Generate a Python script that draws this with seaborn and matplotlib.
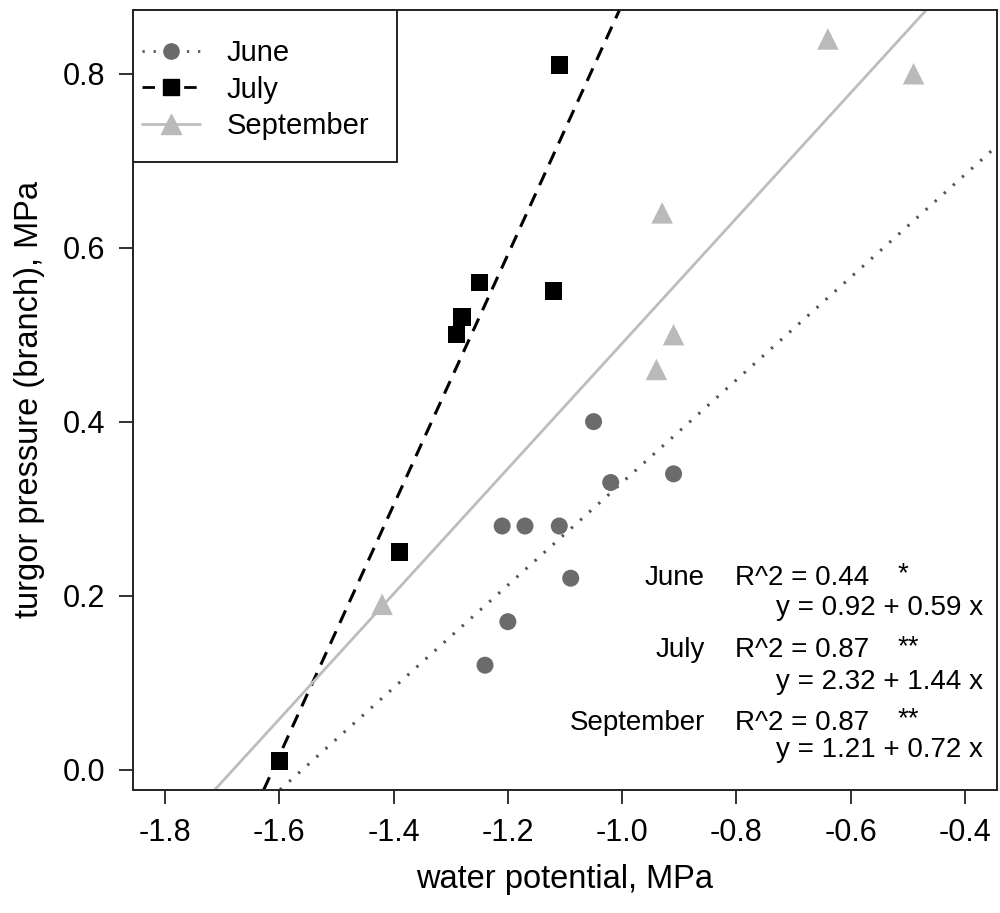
import numpy as np
import pandas as pd
import matplotlib
matplotlib.use("Agg")
import matplotlib.pyplot as plt
from matplotlib.lines import Line2D
from matplotlib.patches import Rectangle
import seaborn as sns

# data
june_x = [-1.05, -1.02, -0.91, -1.21, -1.17, -1.11, -1.09, -1.20, -1.24]
june_y = [0.40, 0.33, 0.34, 0.28, 0.28, 0.28, 0.22, 0.17, 0.12]
july_x = [-1.11, -1.25, -1.28, -1.29, -1.12, -1.39, -1.60]
july_y = [0.81, 0.56, 0.52, 0.50, 0.55, 0.25, 0.01]
sept_x = [-0.64, -0.49, -0.93, -0.91, -0.94, -1.42]
sept_y = [0.84, 0.80, 0.64, 0.50, 0.46, 0.19]

months = ["June", "July", "September"]
intercepts = [0.92, 2.32, 1.21]
slopes = [0.59, 1.44, 0.72]
r_squared = ["0.44", "0.87", "0.87"]
signif = ["*", "**", "**"]

x_ticks = [-1.8, -1.6, -1.4, -1.2, -1.0, -0.8, -0.6, -0.4]
y_ticks = [0.0, 0.2, 0.4, 0.6, 0.8]

df = pd.DataFrame({
    "wp": june_x + july_x + sept_x,
    "tp": june_y + july_y + sept_y,
    "month": ["June"] * len(june_x) + ["July"] * len(july_x) + ["September"] * len(sept_x),
})

colors = {"June": "#6b6b6b", "July": "#000000", "September": "#bababa"}
line_colors = {"June": "#555555", "July": "#000000", "September": "#bdbdbd"}
markers = {"June": "o", "July": "s", "September": "^"}
sizes = {"June": 150, "July": 160, "September": 240}
dashes = {"June": (0, (0.8, 3.2)), "July": (0, (4.5, 3.0)), "September": "-"}

sns.set_theme(style="ticks")
plt.rcParams["font.family"] = ["Liberation Sans", "DejaVu Sans"]
plt.rcParams["text.color"] = "black"
plt.rcParams["axes.labelcolor"] = "black"
plt.rcParams["xtick.color"] = "#222222"
plt.rcParams["ytick.color"] = "#222222"
plt.rcParams["xtick.labelcolor"] = "black"
plt.rcParams["ytick.labelcolor"] = "black"

fig = plt.figure(figsize=(10, 9.13), dpi=100)
ax = fig.add_axes([0.133, 0.135, 0.864, 0.854])

for m in months:
    sub = df[df["month"] == m]
    sns.scatterplot(data=sub, x="wp", y="tp", marker=markers[m], color=colors[m],
                    s=sizes[m], edgecolor="none", ax=ax, legend=False, zorder=3)

# regression lines from the printed equations
for m, a, b in zip(months, intercepts, slopes):
    ax.axline((0, a), slope=b, color=line_colors[m], linestyle=dashes[m],
              lw=2.2 if m != "September" else 2.0, zorder=2)

ax.set_xlim(-1.856, -0.344)
ax.set_ylim(-0.0232, 0.8732)
ax.set_xticks(x_ticks)
ax.set_xticklabels([f"{t:.1f}" for t in x_ticks])
ax.set_yticks(y_ticks)
ax.set_yticklabels([f"{t:.1f}" for t in y_ticks])
ax.tick_params(axis="both", direction="out", length=10, width=1.3, labelsize=22)
ax.tick_params(axis="x", pad=10)
ax.tick_params(axis="y", pad=10)
for sp in ax.spines.values():
    sp.set_color("#222222")
    sp.set_linewidth(1.4)

ax.set_xlabel("water potential, MPa", fontsize=23.5, labelpad=12)
ax.set_ylabel("turgor pressure (branch), MPa", fontsize=23.5, labelpad=13)

# legend box in the top-left corner, R style
ax.add_patch(Rectangle((0, 0.805), 0.3056, 0.195, transform=ax.transAxes, fill=True,
                       facecolor="white", edgecolor="#222222", lw=1.4, zorder=4,
                       clip_on=False))
handles = [
    Line2D([], [], color=line_colors[m], linestyle=dashes[m], lw=2,
           marker=markers[m], markersize=11 if m != "September" else 14,
           markerfacecolor=colors[m], markeredgecolor=colors[m])
    for m in months
]
leg = ax.legend(handles, months, loc="center left", bbox_to_anchor=(0.0104, 0.898),
                borderaxespad=0, borderpad=0, fontsize=21, frameon=False,
                handlelength=2.0, handletextpad=0.9, labelspacing=0.28, numpoints=1)
leg.set_zorder(5)

# fit statistics block, lower right
row_y = [0.272, 0.179, 0.086]
eq_y = [0.233, 0.138, 0.051]
for i, m in enumerate(months):
    ax.text(0.662, row_y[i], m, transform=ax.transAxes, ha="right", va="center", fontsize=20)
    ax.text(0.697, row_y[i], f"R^2 = {r_squared[i]}", transform=ax.transAxes,
            ha="left", va="center", fontsize=20)
    ax.text(0.885, row_y[i] + 0.004, signif[i], transform=ax.transAxes,
            ha="left", va="center", fontsize=20)
    ax.text(0.984, eq_y[i], f"y = {intercepts[i]:.2f} + {slopes[i]:.2f} x",
            transform=ax.transAxes, ha="right", va="center", fontsize=20)

fig.savefig("out.png", dpi=100)
